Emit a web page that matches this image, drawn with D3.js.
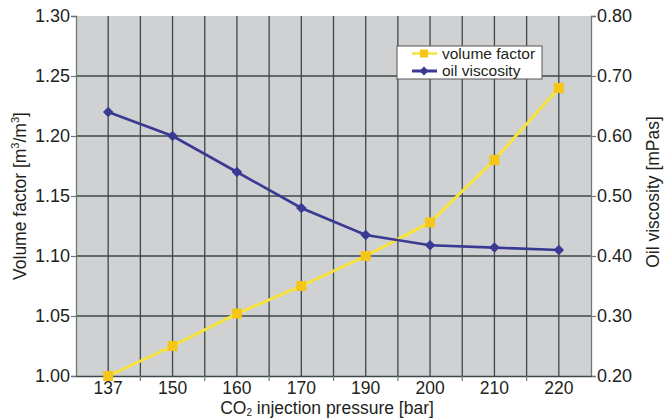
<!DOCTYPE html>
<html><head><meta charset="utf-8">
<script src="https://cdn.jsdelivr.net/npm/d3@7"></script>
<style>body{margin:0;background:#fff}svg{display:block}text{font-family:"Liberation Sans",Arial,sans-serif;fill:#231f20}</style>
</head><body>
<script>
const categories = ["137","150","160","170","190","200","210","220"];
const volumeFactor = [1.00, 1.025, 1.052, 1.075, 1.10, 1.128, 1.18, 1.24];
const oilViscosity = [0.64, 0.60, 0.54, 0.48, 0.435, 0.418, 0.414, 0.41];
const leftTicks = [1.00, 1.05, 1.10, 1.15, 1.20, 1.25, 1.30];
const rightTicks = [0.20, 0.30, 0.40, 0.50, 0.60, 0.70, 0.80];

const W = 668, H = 419;
const m = {l:76, r:77, t:16, b:43};
const iw = W - m.l - m.r, ih = H - m.t - m.b;
const svg = d3.select("body").append("svg").attr("width", W).attr("height", H);
const g = svg.append("g").attr("transform", `translate(${m.l},${m.t})`);

const x = d3.scaleBand().domain(categories).range([0, iw]);
const yL = d3.scaleLinear().domain([1.0, 1.3]).range([ih, 0]);
const yR = d3.scaleLinear().domain([0.2, 0.8]).range([ih, 0]);
const cx = c => x(c) + x.bandwidth()/2;

g.append("rect").attr("width", iw).attr("height", ih).attr("fill", "#d0d1d3");

const gridColor = "#3e4848";
const vlines = [];
categories.forEach((c,i) => { vlines.push(cx(c)); if (i>0) vlines.push(x(c)); });
g.selectAll(".vg").data(vlines).join("line")
  .attr("x1", d=>d).attr("x2", d=>d).attr("y1", 0).attr("y2", ih)
  .attr("stroke", gridColor).attr("stroke-width", 1.3);
g.selectAll(".hg").data(leftTicks.slice(1, -1)).join("line")
  .attr("x1", 0).attr("x2", iw).attr("y1", d=>yL(d)).attr("y2", d=>yL(d))
  .attr("stroke", gridColor).attr("stroke-width", 1.3);

const axisColor = "#6f7778";
const la = g.append("g").call(d3.axisLeft(yL).tickValues(leftTicks).tickFormat(d3.format(".2f")).tickSize(5).tickPadding(1));
const ra = g.append("g").attr("transform", `translate(${iw},0)`).call(d3.axisRight(yR).tickValues(rightTicks).tickFormat(d3.format(".2f")).tickSize(5).tickPadding(1));
const ba = g.append("g").attr("transform", `translate(0,${ih})`).call(d3.axisBottom(x).tickSize(0).tickPadding(6));
[la, ra, ba].forEach(a => {
  a.select(".domain").attr("stroke", axisColor).attr("stroke-width", 1.3);
  a.selectAll(".tick line").attr("stroke", axisColor).attr("stroke-width", 1.2);
  a.selectAll("text").attr("font-size", 18).attr("fill", "#231f20").attr("font-family", "Liberation Sans, Arial, sans-serif");
});
ba.selectAll("text").attr("font-size", 17.5);
ba.select(".domain").attr("stroke", "#3e4848");
g.selectAll(".bt").data(categories.slice(1)).join("line")
  .attr("x1", d=>x(d)).attr("x2", d=>x(d)).attr("y1", ih).attr("y2", ih+5)
  .attr("stroke", axisColor).attr("stroke-width", 1.2);

const yellow = "#f6e33c", yellowMk = "#f5c518", blue = "#3a3a94";
const lineV = d3.line().x((d,i)=>cx(categories[i])).y(d=>yL(d));
const lineO = d3.line().x((d,i)=>cx(categories[i])).y(d=>yR(d));
g.append("path").datum(volumeFactor).attr("d", lineV).attr("fill","none").attr("stroke", yellow).attr("stroke-width", 3);
g.append("path").datum(oilViscosity).attr("d", lineO).attr("fill","none").attr("stroke", blue).attr("stroke-width", 2.6);
g.selectAll(".mv").data(volumeFactor).join("rect")
  .attr("x", (d,i)=>cx(categories[i])-5).attr("y", d=>yL(d)-5).attr("width", 10).attr("height", 10).attr("fill", yellowMk);
const diamond = d3.symbol().type(d3.symbolDiamond2).size(70);
g.selectAll(".mo").data(oilViscosity).join("path")
  .attr("transform", (d,i)=>`translate(${cx(categories[i])},${yR(d)})`).attr("d", diamond).attr("fill", blue);

const lg = svg.append("g").attr("transform", "translate(397,46)");
lg.append("rect").attr("width", 145).attr("height", 33).attr("fill", "#fff").attr("stroke", "#555").attr("stroke-width", 1);
const items = [{name:"volume factor", c:yellow, mk:"sq"}, {name:"oil viscosity", c:blue, mk:"di"}];
items.forEach((it, i) => {
  const yy = 7.5 + i*17.5;
  lg.append("line").attr("x1", 15).attr("x2", 40).attr("y1", yy).attr("y2", yy).attr("stroke", it.c).attr("stroke-width", i?3:2.5);
  if (it.mk === "sq") lg.append("rect").attr("x", 23).attr("y", yy-4).attr("width", 8).attr("height", 8).attr("fill", yellowMk);
  else lg.append("path").attr("transform", `translate(27,${yy})`).attr("d", d3.symbol().type(d3.symbolDiamond2).size(50)).attr("fill", blue);
  lg.append("text").attr("x", 45).attr("y", yy + 5).attr("font-size", 15.5).text(it.name);
});

svg.append("text").attr("transform", `translate(26,${m.t+ih/2}) rotate(-90)`).attr("text-anchor","middle").attr("font-size", 17.5)
  .html('Volume factor [m<tspan dy="-7" font-size="11">3</tspan><tspan dy="7">/m</tspan><tspan dy="-7" font-size="11">3</tspan><tspan dy="7">]</tspan>');
svg.append("text").attr("transform", `translate(659,${m.t+ih/2 - 4}) rotate(-90)`).attr("text-anchor","middle").attr("font-size", 17.5)
  .text("Oil viscosity [mPas]");
svg.append("text").attr("x", 327).attr("y", 414).attr("text-anchor","middle").attr("font-size", 17.5)
  .html('CO<tspan dy="2" font-size="10">2</tspan><tspan dy="-2"> injection pressure [bar]</tspan>');
</script>
</body></html>
